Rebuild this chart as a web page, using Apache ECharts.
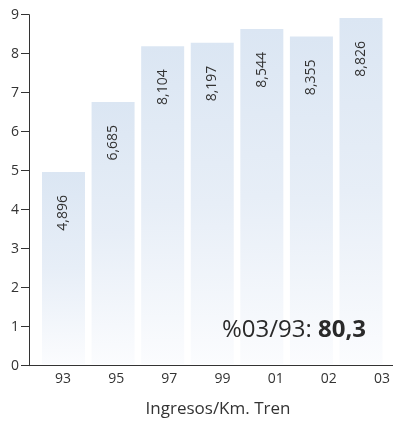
<!DOCTYPE html>
<html>
<head>
<meta charset="utf-8">
<script src="https://cdn.jsdelivr.net/npm/echarts@6/dist/echarts.min.js"></script>
<style>
html,body{margin:0;padding:0;background:#fff;}
#c{width:393px;height:421px;}
</style>
</head>
<body>
<div id="c"></div>
<script>
const years = ["93", "95", "97", "99", "01", "02", "03"];
const values = [4.896, 6.685, 8.104, 8.197, 8.544, 8.355, 8.826];
const yTicks = [0, 1, 2, 3, 4, 5, 6, 7, 8, 9];
const titleText = "Ingresos/Km. Tren";
const noteLabel = "%03/93: ";
const noteValue = "80,3";

const FONT = "Open Sans";
const chart = echarts.init(document.getElementById('c'), null, {renderer: 'canvas'});

chart.setOption({
  animation: false,
  backgroundColor: '#ffffff',
  textStyle: {fontFamily: FONT},
  title: [
    {
      text: titleText,
      left: 213, top: 396, textAlign: 'center',
      textStyle: {fontFamily: FONT, fontSize: 17, fontWeight: 'normal', color: '#333'}
    },
    {
      text: '{a|' + noteLabel + '}{b|' + noteValue + '}',
      left: 217, top: 313,
      textStyle: {
        rich: {
          a: {fontFamily: FONT, fontSize: 24, color: '#2a2a2a', fontWeight: 'normal'},
          b: {fontFamily: FONT, fontSize: 24, color: '#2a2a2a', fontWeight: 'bold'}
        }
      }
    }
  ],
  grid: [
    {left: 29, right: 0, top: 14.7, bottom: 55.3},
    {left: 38.7, right: 7.2, top: 11.2, bottom: 57},
    {left: 63, right: 4, top: 14.7, bottom: 55.3}
  ],
  xAxis: [
    {gridIndex: 0, type: 'value', min: 0, max: 1, axisLine: {show: true, lineStyle: {color: '#333', width: 1}},
     axisTick: {show: false}, axisLabel: {show: false}, splitLine: {show: false}},
    {gridIndex: 1, type: 'category', data: years, show: false},
    {gridIndex: 2, type: 'value', min: 0, max: years.length - 1, interval: 1,
     axisLine: {show: false}, axisTick: {show: false}, splitLine: {show: false},
     axisLabel: {show: true, margin: 6, fontFamily: FONT, fontSize: 14, color: '#333',
       showMinLabel: true, showMaxLabel: true,
       formatter: function (v) { return years[Math.round(v)] || ''; }}}
  ],
  yAxis: [
    {gridIndex: 0, type: 'value', min: yTicks[0], max: yTicks[yTicks.length - 1], interval: 1,
     axisLine: {show: true, lineStyle: {color: '#333', width: 1}},
     axisTick: {show: true, inside: false, length: 8, lineStyle: {color: '#333'}},
     axisLabel: {margin: 10, fontFamily: FONT, fontSize: 14, color: '#333'},
     splitLine: {show: false}},
    {gridIndex: 1, type: 'value', min: yTicks[0], max: yTicks[yTicks.length - 1], show: false},
    {gridIndex: 2, type: 'value', min: 0, max: 1, show: false}
  ],
  series: [{
    type: 'bar',
    xAxisIndex: 1, yAxisIndex: 1,
    data: values,
    barWidth: 43,
    itemStyle: {
      color: new echarts.graphic.LinearGradient(0, 0, 0, 1, [
        {offset: 0, color: '#dbe6f3'},
        {offset: 0.5, color: '#e7eef7'},
        {offset: 1, color: '#fbfcfe'}
      ])
    },
    label: {
      show: true,
      position: 'insideTop',
      rotate: 90,
      align: 'right',
      verticalAlign: 'middle',
      distance: 23,
      fontFamily: FONT,
      fontSize: 14,
      color: '#333',
      formatter: function (p) { return p.value.toFixed(3).replace('.', ','); }
    }
  }]
});
</script>
</body>
</html>
